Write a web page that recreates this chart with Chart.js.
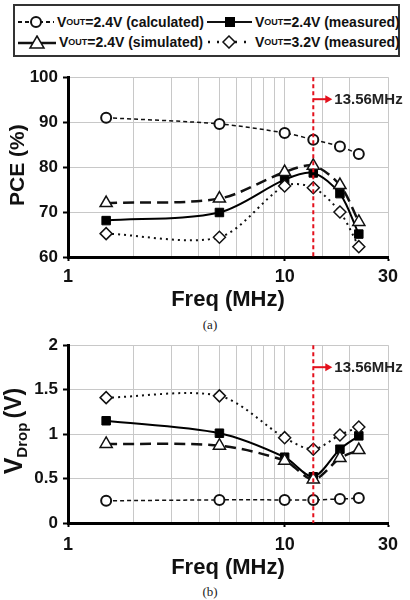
<!DOCTYPE html>
<html>
<head>
<meta charset="utf-8">
<script src="https://cdn.jsdelivr.net/npm/chart.js@4.4.0/dist/chart.umd.min.js"></script>
<style>
  body { margin: 0; width: 410px; height: 600px; background: #fff; position: relative; overflow: hidden;
         font-family: "Liberation Sans", Arial, sans-serif; }
  #legend { position: absolute; left: 13px; top: 4px; width: 383px; height: 49px; border: 2px solid #333; }
  .item { position: absolute; display: flex; align-items: center; height: 16px; font-weight: bold;
          font-size: 14px; color: #111; white-space: nowrap; }
  .item svg { margin-right: 3px; }
  .item sub { font-size: 9px; vertical-align: -3px; line-height: 0; }
  .wrap { position: absolute; left: 0; width: 410px; height: 254px; }
  #wrapA { top: 62px; }
  #wrapB { top: 330px; }
  .cap { position: absolute; left: 0; width: 420px; text-align: center; font-family: "Liberation Serif", serif;
         font-size: 13px; color: #222; }
</style>
</head>
<body>
<div id="legend">
  <div class="item" style="left:3px;top:8px">
    <svg width="36" height="14"><line x1="0" y1="7" x2="36" y2="7" stroke="#111" stroke-width="2" stroke-dasharray="4,3"/><circle cx="18" cy="7" r="5" fill="#fff" stroke="#111" stroke-width="2"/></svg>V<sub>OUT</sub>=2.4V (calculated)
  </div>
  <div class="item" style="left:192px;top:8px">
    <svg width="45" height="14"><line x1="0" y1="7" x2="45" y2="7" stroke="#111" stroke-width="2"/><rect x="18" y="2" width="10" height="10" fill="#000"/></svg>V<sub>OUT</sub>=2.4V (measured)
  </div>
  <div class="item" style="left:3px;top:28px">
    <svg width="38" height="14"><line x1="0" y1="8" x2="38" y2="8" stroke="#111" stroke-width="2.5"/><polygon points="19,1 26,13 12,13" fill="#fff" stroke="#111" stroke-width="1.5"/></svg>V<sub>OUT</sub>=2.4V (simulated)
  </div>
  <div class="item" style="left:192px;top:28px">
    <svg width="45" height="14"><line x1="1" y1="7" x2="45" y2="7" stroke="#111" stroke-width="2.5" stroke-dasharray="2,7"/><polygon points="22,1 28,7 22,13 16,7" fill="#fff" stroke="#111" stroke-width="1.5"/></svg>V<sub>OUT</sub>=3.2V (measured)
  </div>
</div>

<div class="wrap" id="wrapA"><canvas id="graficoPCE"></canvas></div>
<div class="cap" style="top:317px">(a)</div>
<div class="wrap" id="wrapB"><canvas id="graficoVdrop"></canvas></div>
<div class="cap" style="top:584px">(b)</div>

<script>
const FONT = '"Liberation Sans", Arial, sans-serif';

const freqMHz = [1.5, 5, 10, 13.56, 18, 22];
const xTickLabels = [1, 10, 30];
const resonantFreq = 13.56;

const pceCalc = [91.0, 89.6, 87.6, 86.1, 84.6, 82.9];
const pceSim24 = [72.0, 73.0, 78.9, 80.3, 76.0, 67.8];
const pceMeas32 = [65.2, 64.4, 75.8, 75.4, 70.0, 62.3];
const pceMeas24 = [68.1, 69.9, 77.2, 78.7, 74.1, 65.1];

const vdropCalc = [0.25, 0.26, 0.26, 0.26, 0.27, 0.28];
const vdropSim24 = [0.89, 0.87, 0.70, 0.49, 0.73, 0.82];
const vdropMeas32 = [1.41, 1.43, 0.96, 0.83, 0.99, 1.08];
const vdropMeas24 = [1.15, 1.01, 0.74, 0.52, 0.83, 0.98];

// red dashed marker at 13.56 MHz with arrow + label
const markerLine = {
  id: "markerLine",
  afterDatasetsDraw(chart) {
    const { ctx, chartArea } = chart;
    const x = chart.scales.x.getPixelForValue(resonantFreq);
    ctx.save();
    ctx.strokeStyle = "#e3101c";
    ctx.lineWidth = 2;
    ctx.setLineDash([4, 3]);
    ctx.beginPath();
    ctx.moveTo(x, chartArea.top);
    ctx.lineTo(x, chartArea.bottom);
    ctx.stroke();
    const ay = chartArea.top + 22;
    ctx.setLineDash([]);
    ctx.beginPath();
    ctx.moveTo(x, ay);
    ctx.lineTo(x + 13, ay);
    ctx.stroke();
    ctx.fillStyle = "#e3101c";
    ctx.beginPath();
    ctx.moveTo(x + 19, ay);
    ctx.lineTo(x + 12, ay - 4);
    ctx.lineTo(x + 12, ay + 4);
    ctx.closePath();
    ctx.fill();
    ctx.fillStyle = "#222";
    ctx.font = "bold 15px " + FONT;
    ctx.textBaseline = "middle";
    ctx.fillText(resonantFreq + "MHz", x + 21, ay + 1);
    ctx.restore();
  },
};

// rotated y title, allows a subscript part
const yTitle = {
  id: "yTitle",
  afterDraw(chart, args, opts) {
    const { ctx, chartArea } = chart;
    ctx.save();
    ctx.translate(opts.x, (chartArea.top + chartArea.bottom) / 2 + (opts.dy || 0));
    ctx.rotate(-Math.PI / 2);
    let total = 0;
    opts.parts.forEach((p) => {
      ctx.font = "bold " + p.size + "px " + FONT;
      total += ctx.measureText(p.text).width;
    });
    let x = -total / 2;
    ctx.fillStyle = "#111";
    ctx.textBaseline = "middle";
    opts.parts.forEach((p) => {
      ctx.font = "bold " + p.size + "px " + FONT;
      ctx.fillText(p.text, x, p.dy || 0);
      x += ctx.measureText(p.text).width;
    });
    ctx.restore();
  },
};

function series(calc, sim, meas32, meas24) {
  const pts = (arr) => freqMHz.map((f, i) => ({ x: f, y: arr[i] }));
  return [
    {
      label: "VOUT=2.4V (calculated)",
      data: pts(calc),
      borderColor: "#111",
      borderWidth: 1.5,
      borderDash: [4, 3],
      pointStyle: "circle",
      pointRadius: 5,
      pointBorderWidth: 2,
      pointBackgroundColor: "#fff",
      pointBorderColor: "#111",
      tension: 0.3,
    },
    {
      label: "VOUT=2.4V (simulated)",
      data: pts(sim),
      borderColor: "#111",
      borderWidth: 2.5,
      borderDash: [11, 6],
      pointStyle: "triangle",
      pointRadius: 7,
      pointBorderWidth: 1.5,
      pointBackgroundColor: "#fff",
      pointBorderColor: "#111",
      tension: 0.3,
    },
    {
      label: "VOUT=3.2V (measured)",
      data: pts(meas32),
      borderColor: "#111",
      borderWidth: 2,
      borderDash: [2, 4],
      pointStyle: "rectRot",
      pointRadius: 6,
      pointBorderWidth: 1.5,
      pointBackgroundColor: "#fff",
      pointBorderColor: "#111",
      tension: 0.3,
    },
    {
      label: "VOUT=2.4V (measured)",
      data: pts(meas24),
      borderColor: "#000",
      borderWidth: 2,
      pointStyle: "rect",
      pointRadius: 6,
      pointBorderWidth: 1,
      pointBackgroundColor: "#000",
      pointBorderColor: "#000",
      tension: 0.3,
    },
  ];
}

function options(yMin, yMax, yStep, topPad, xHeight, xPad, yTitleOpts) {
  return {
    responsive: true,
    maintainAspectRatio: false,
    animation: false,
    layout: { padding: { top: topPad, right: 22, left: 0, bottom: 0 } },
    plugins: {
      legend: { display: false },
      tooltip: { enabled: false },
      yTitle: yTitleOpts,
    },
    scales: {
      x: {
        type: "logarithmic",
        min: 1,
        max: 30,
        afterFit: (s) => { s.height = xHeight; },
        grid: {
          color: "#c8c8c8",
          lineWidth: 1,
          tickLength: 4,
          tickWidth: 2,
          tickColor: (c) => (c.tick && xTickLabels.includes(c.tick.value) ? "#000" : "rgba(0,0,0,0)"),
        },
        border: { color: "#000", width: 3 },
        ticks: {
          autoSkip: false,
          maxRotation: 0,
          padding: xPad,
          color: "#111",
          font: { family: FONT, size: 18, weight: "bold" },
          callback: (v) => (xTickLabels.includes(v) ? String(v) : ""),
        },
        title: {
          display: true,
          text: "Freq (MHz)",
          color: "#111",
          font: { family: FONT, size: 22, weight: "bold" },
          padding: { top: 0, bottom: 3 },
        },
      },
      y: {
        min: yMin,
        max: yMax,
        afterFit: (s) => { s.width = 68; },
        grid: { color: "#c8c8c8", lineWidth: 1, tickColor: "#000", tickLength: 5, tickWidth: 2 },
        border: { color: "#000", width: 3 },
        ticks: {
          stepSize: yStep,
          padding: 5,
          color: "#111",
          font: { family: FONT, size: 17, weight: "bold" },
          callback: (v) => String(+v.toFixed(2)),
        },
      },
    },
  };
}

new Chart(document.getElementById("graficoPCE"), {
  type: "line",
  data: { datasets: series(pceCalc, pceSim24, pceMeas32, pceMeas24) },
  options: options(60, 100, 10, 13, 59, 5, { x: 18, dy: -2, parts: [{ text: "PCE (%)", size: 21 }] }),
  plugins: [markerLine, yTitle],
});

new Chart(document.getElementById("graficoVdrop"), {
  type: "line",
  data: { datasets: series(vdropCalc, vdropSim24, vdropMeas32, vdropMeas24) },
  options: options(0, 2, 0.5, 12, 61, 7, {
    x: 15,
    dy: -3,
    parts: [
      { text: "V", size: 25 },
      { text: "Drop ", size: 15, dy: 8 },
      { text: "(V)", size: 23 },
    ],
  }),
  plugins: [markerLine, yTitle],
});
</script>
</body>
</html>
